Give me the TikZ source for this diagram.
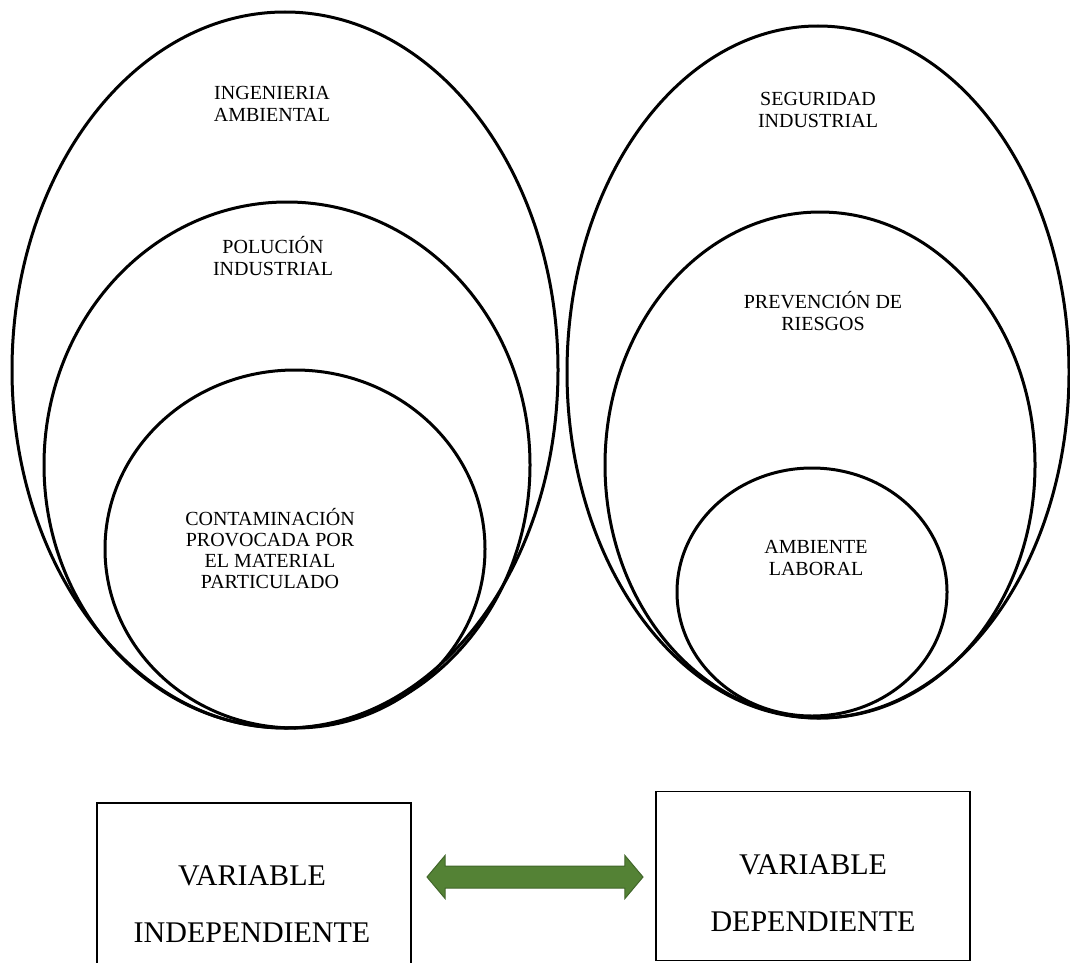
\documentclass[tikz,border=0pt]{standalone}
\usepackage{fontspec}
\setmainfont{Liberation Serif}
\usetikzlibrary{shapes.arrows}
\definecolor{arrowgreen}{HTML}{548235}
\definecolor{arrowedge}{HTML}{41662A}

\begin{document}
\begin{tikzpicture}[x=1pt,y=-1pt,
  ring/.style={line width=3pt},
  tag/.style={align=center,font=\fontsize{20}{22.5}\selectfont},
  varbox/.style={draw,line width=1.5pt,minimum width=314pt,minimum height=169pt},
  vartext/.style={align=center,font=\fontsize{30}{57}\selectfont},
  link/.style={double arrow,fill=arrowgreen,draw=arrowedge,line width=1pt,
    inner xsep=0pt,inner ysep=10.5pt,text height=0pt,text depth=0pt,
    minimum height=216pt,double arrow head extend=10.5pt,double arrow tip angle=100}]
\def\ambientalring{(285,370) ellipse (273pt and 358pt)}
\def\polucionring{(287,465) ellipse (243pt and 263pt)}
\def\materialring{(295,549) ellipse (190pt and 179pt)}
\def\seguridadring{(818,372) ellipse (251pt and 346pt)}
\def\riesgosring{(820,465) ellipse (215pt and 253pt)}
\def\laboralring{(812,592) ellipse (135pt and 124pt)}
\useasboundingbox (0,0) rectangle (1070,963);
\clip (0,0) rectangle (1070,963);
% variable independiente
\draw[ring] \ambientalring;
\draw[ring] \polucionring;
\draw[ring] \materialring;
\node[tag] (ambiental) at (272,104) {INGENIERIA\\AMBIENTAL};
\node[tag] (polucion) at (273,256) {POLUCIÓN\\INDUSTRIAL};
\node[tag,font=\fontsize{20}{21}\selectfont] (material) at (270,549) {CONTAMINACIÓN\\PROVOCADA POR\\EL MATERIAL\\PARTICULADO};
% variable dependiente
\draw[ring] \seguridadring;
\draw[ring] \riesgosring;
\draw[ring] \laboralring;
\node[tag] (seguridad) at (818,110) {SEGURIDAD\\INDUSTRIAL};
\node[tag] (riesgos) at (823,311) {PREVENCIÓN DE\\RIESGOS};
\node[tag] (laboral) at (816,558) {AMBIENTE\\LABORAL};
% cajas
\node[varbox,minimum height=180pt] (indep) at (254,893) {};
\node[vartext] (indeptext) at (252,904) {VARIABLE\\INDEPENDIENTE};
\node[varbox] (dep) at (813,876) {};
\node[vartext] (deptext) at (813,893) {VARIABLE\\DEPENDIENTE};
\node[link] (relacion) at (535,877) {};
\end{tikzpicture}
\end{document}
